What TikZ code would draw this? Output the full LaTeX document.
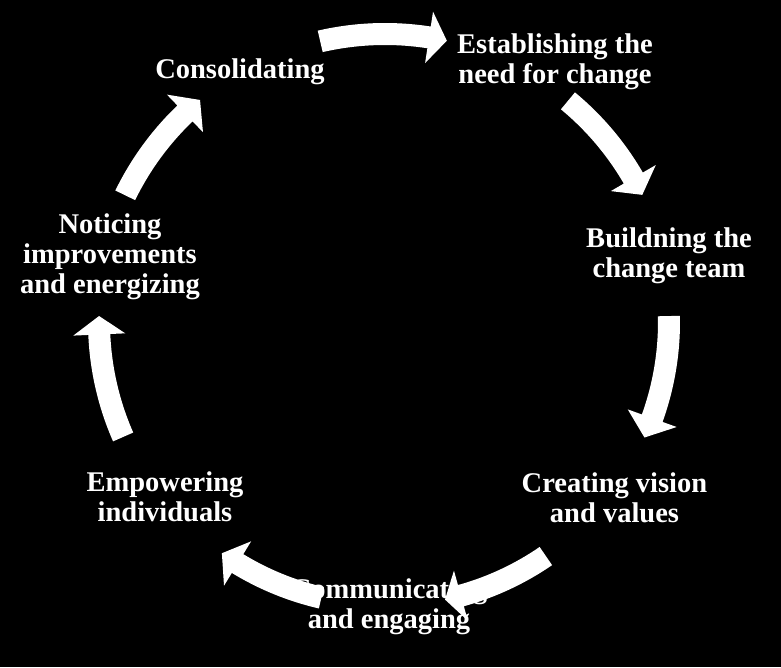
\documentclass[tikz,border=0pt]{standalone}
\usepackage{fontspec}
\setmainfont{Liberation Serif}
\tikzset{
  lbl/.style={text=white, align=center, inner sep=0pt, font=\fontsize{28.5}{30}\selectfont\bfseries},
  arrowfill/.style={fill=white}
}
% #1 tail angle, #2 head-base angle, #3 tip angle, #4 radius
\newcommand\cycarrow[4]{%
  \pgfmathsetmacro\rA{#4+11}\pgfmathsetmacro\rB{#4-11}%
  \pgfmathsetmacro\rC{#4+26}\pgfmathsetmacro\rD{#4-26}%
  \fill[arrowfill] (#1:\rA pt) arc[start angle=#1, end angle=#2, radius=\rA pt]
    -- (#2:\rC pt) -- (#3:#4pt) -- (#2:\rD pt) -- (#2:\rB pt)
    arc[start angle=#2, end angle=#1, radius=\rB pt] -- cycle;}
\begin{document}
\begin{tikzpicture}[x=1pt,y=1pt]
  \fill[black] (0,0) rectangle (781,667);
  \useasboundingbox (0,0) rectangle (781,667);
  \coordinate (ctr) at (385,345);
  \node[lbl] (est) at (555,605) {Establishing the\\need for change};
  \node[lbl] (build) at (669,411) {Buildning the\\change team};
  \node[lbl] (create) at (614.5,169.5) {Creating vision\\and values};
  \node[lbl] (comm) at (389,60) {Communicating\\and engaging};
  \node[lbl] (emp) at (165,170) {Empowering\\individuals};
  \node[lbl] (notice) at (110,410) {Noticing\\improvements\\and energizing};
  \node[lbl] (cons) at (240,595) {Consolidating};
  \begin{scope}[shift={(ctr)}]
    \cycarrow{103}{81.2}{77.6}{288}
    \cycarrow{50.4}{30.1}{26.3}{287}
    \cycarrow{1.2}{-19.8}{-24}{284}
    \cycarrow{-55.5}{-74.5}{-77.8}{284}
    \cycarrow{-103}{-121.4}{-125.2}{283}
    \cycarrow{203.7}{182.5}{178.8}{286}
    \cycarrow{154}{133.8}{129.8}{289}
  \end{scope}
\end{tikzpicture}
\end{document}
